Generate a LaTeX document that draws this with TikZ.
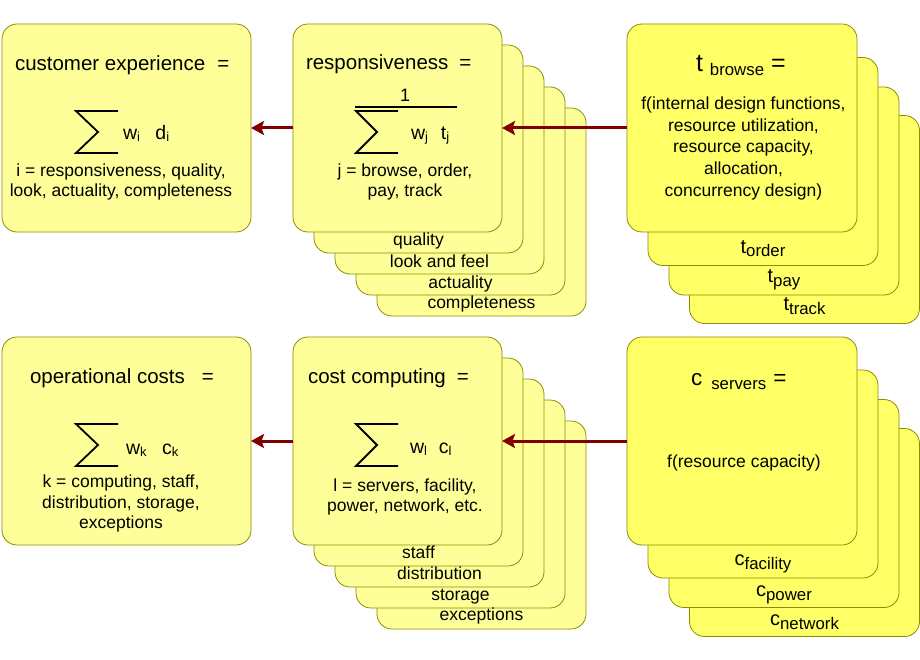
\documentclass[tikz,border=0pt]{standalone}
\usepackage{fontspec}
\setmainfont{Liberation Sans}
\usetikzlibrary{arrows.meta}
\definecolor{lightY}{RGB}{255,255,153}
\definecolor{brightY}{RGB}{255,255,102}
\definecolor{edgeY}{RGB}{140,140,0}
\definecolor{arrRed}{RGB}{128,0,0}
\newcommand\fTitle{\fontsize{20.5}{24}\selectfont}
\newcommand\fBody{\fontsize{17.5}{21}\selectfont}
\newcommand\fBig{\fontsize{25}{25}\selectfont}
\newcommand\fBigc{\fontsize{22.5}{23}\selectfont}
\newcommand\fSub{\fontsize{16.8}{17}\selectfont}
\newcommand\fLab{\fontsize{20}{20}\selectfont}
\newcommand\fW{\fontsize{19.5}{20}\selectfont}
\newcommand\fWs{\fontsize{13}{13}\selectfont}
\newcommand\lowsub[2]{\raisebox{-#1}{#2}}
\newcommand\subl[2]{{\fLab #1}\lowsub{4pt}{\fSub #2}}
\tikzset{
 card/.style={draw=edgeY, line width=0.8pt, rounded corners=15pt, inner sep=0pt, outer sep=0pt},
 cardL/.style={card, fill=lightY, minimum width=209pt, minimum height=208pt},
 cardE/.style={card, fill=lightY, minimum width=249pt, minimum height=208pt},
 cardR/.style={card, fill=brightY, minimum width=230pt, minimum height=208pt},
 txt/.style={inner sep=0pt, outer sep=0pt, font=\fBody},
 ttl/.style={inner sep=0pt, outer sep=0pt, font=\fTitle, anchor=base west},
 sig/.style={line width=1.8pt, line join=miter, line cap=butt},
 conn/.style={draw=arrRed, line width=3pt, -{Stealth[length=13pt,width=14pt,inset=2.5pt]}},
}
\begin{document}
\begin{tikzpicture}[x=1pt,y=-1pt]
\useasboundingbox (0,0) rectangle (920,660);
% ---------- top row ----------
\node[cardE] (ce) at (126.5,128) {};
% middle stack
\node[cardL] (r4) at (481.5,212) {};
\node[cardL] (r3) at (460.5,191) {};
\node[cardL] (r2) at (439.5,170) {};
\node[cardL] (r1) at (418.5,149) {};
\node[cardL] (resp) at (397.5,128) {};
% right stack
\node[cardR] (t3) at (804.5,219.5) {};
\node[cardR] (t2) at (784,191) {};
\node[cardR] (t1) at (763,161.5) {};
\node[cardR] (tb) at (742,128) {};
% ---------- bottom row ----------
\node[cardE] (oc) at (126.5,441) {};
\node[cardL] (s4) at (481.5,525) {};
\node[cardL] (s3) at (460.5,504) {};
\node[cardL] (s2) at (439.5,483) {};
\node[cardL] (s1) at (418.5,462) {};
\node[cardL] (cc) at (397.5,441) {};
\node[cardR] (c3) at (804.5,532.5) {};
\node[cardR] (c2) at (784,503.5) {};
\node[cardR] (c1) at (763,474) {};
\node[cardR] (cs) at (742,441) {};

% ---------- customer experience ----------
\node[ttl] (ceT) at (15,71) {customer experience\hspace{12pt}=};
\draw[sig] (118,111) -- (76,111) -- (98,132) -- (76,153) -- (118,153);
\node[txt,anchor=base west] (ceF) at (123,140) {{\fW w}\lowsub{2pt}{\fWs i}\hspace{15.5pt}{\fW d}\lowsub{2pt}{\fWs i}};
\node[txt,anchor=base] (ceL1) at (121,177) {i = responsiveness, quality,};
\node[txt,anchor=base] (ceL2) at (121,197) {look, actuality, completeness};

% ---------- responsiveness ----------
\node[ttl] (rT) at (306,70) {responsiveness\hspace{11pt}=};
\node[txt,anchor=base,font=\fontsize{18}{18}\selectfont] (rOne) at (405,102) {1};
\draw[line width=1.5pt] (355,107) -- (457,107);
\draw[sig] (398,111) -- (356,111) -- (377,132) -- (356,153) -- (398,153);
\node[txt,anchor=base west] (rF) at (411,140) {{\fW w}\lowsub{2pt}{\fWs j}\hspace{13pt}{\fW t}\lowsub{2pt}{\fWs j}};
\node[txt,anchor=base] (rL1) at (405,177) {j = browse, order,};
\node[txt,anchor=base] (rL2) at (405,197) {pay, track};
\node[txt,anchor=base] (q1) at (418.5,246) {quality};
\node[txt,anchor=base] (q2) at (439.5,267) {look and feel};
\node[txt,anchor=base] (q3) at (460.5,288) {actuality};
\node[txt,anchor=base] (q4) at (481.5,308) {completeness};

% ---------- t browse ----------
\node[txt,anchor=base west] (tbT) at (696,72) {{\fBig t}\hspace{7pt}\lowsub{3.5pt}{\fSub browse}\hspace{7pt}{\fBig =}};
\node[txt,anchor=base] (tbL1) at (743.5,110) {f(internal design functions,};
\node[txt,anchor=base] (tbL2) at (743.5,131.5) {resource utilization,};
\node[txt,anchor=base] (tbL3) at (743.5,153) {resource capacity,};
\node[txt,anchor=base] (tbL4) at (743.5,174.5) {allocation,};
\node[txt,anchor=base] (tbL5) at (743.5,196.5) {concurrency design)};
\node[txt,anchor=base] (to) at (763,253) {\subl{t}{order}};
\node[txt,anchor=base] (tp) at (784,282) {\subl{t}{pay}};
\node[txt,anchor=base] (tt) at (804.5,310) {\subl{t}{track}};

% ---------- operational costs ----------
\node[ttl] (ocT) at (30,383) {operational costs\hspace{17pt}=};
\draw[sig] (118,424) -- (76,424) -- (98,445) -- (76,466) -- (118,466);
\node[txt,anchor=base west] (ocF) at (126,454) {{\fW w}\lowsub{2pt}{\fWs k}\hspace{15.5pt}{\fW c}\lowsub{2pt}{\fWs k}};
\node[txt,anchor=base] (ocL1) at (121,487) {k = computing, staff,};
\node[txt,anchor=base] (ocL2) at (121,508) {distribution, storage,};
\node[txt,anchor=base] (ocL3) at (121,528) {exceptions};

% ---------- cost computing ----------
\node[ttl] (ccT) at (308,383) {cost computing\hspace{11pt}=};
\draw[sig] (398,424) -- (356,424) -- (377,445) -- (356,466) -- (398,466);
\node[txt,anchor=base west] (ccF) at (410,453) {{\fW w}\lowsub{2pt}{\fWs l}\hspace{12pt}{\fW c}\lowsub{2pt}{\fWs l}};
\node[txt,anchor=base] (ccL1) at (405,491.5) {l = servers, facility,};
\node[txt,anchor=base] (ccL2) at (405,511.5) {power, network, etc.};
\node[txt,anchor=base] (p1) at (418.5,558) {staff};
\node[txt,anchor=base] (p2) at (439.5,579) {distribution};
\node[txt,anchor=base] (p3) at (460.5,600) {storage};
\node[txt,anchor=base] (p4) at (481.5,620) {exceptions};

% ---------- c servers ----------
\node[txt,anchor=base west] (csT) at (691,385) {{\fBigc c}\hspace{9pt}\lowsub{4.3pt}{\fSub servers}\hspace{7pt}{\fBigc =}};
\node[txt,anchor=base] (csL1) at (744,467) {f(resource capacity)};
\node[txt,anchor=base] (cf) at (763,565) {\subl{c}{facility}};
\node[txt,anchor=base] (cp) at (784,596) {\subl{c}{power}};
\node[txt,anchor=base] (cn) at (804.5,625) {\subl{c}{network}};

% ---------- connectors ----------
\draw[conn] (resp.west) -- (ce.east);
\draw[conn] (tb.west) -- (resp.east);
\draw[conn] (cc.west) -- (oc.east);
\draw[conn] (cs.west) -- (cc.east);
\end{tikzpicture}
\end{document}
